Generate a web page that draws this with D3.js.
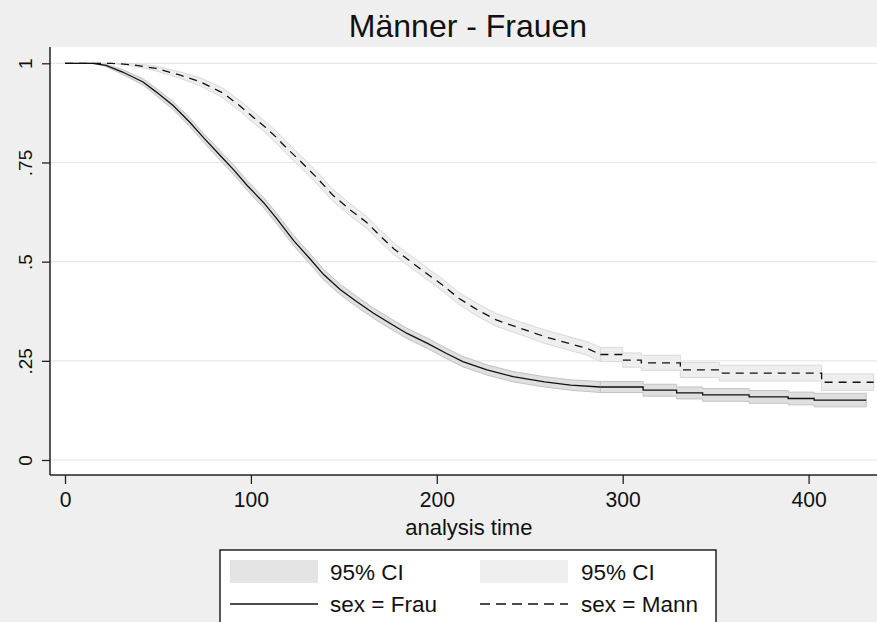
<!DOCTYPE html>
<html><head><meta charset="utf-8">
<script src="https://cdn.jsdelivr.net/npm/d3@7"></script>
<style>
html,body{margin:0;padding:0;background:#efefef;}
svg{display:block;}
</style></head>
<body>
<script>
// ---- data ----
const title = "Männer - Frauen";
const xLabel = "analysis time";
const xTicks = [0, 100, 200, 300, 400];
const yTicks = [0, 0.25, 0.5, 0.75, 1];
const yTickLabels = ["0", ".25", ".5", ".75", "1"];
const legendLabels = ["95% CI", "95% CI", "sex = Frau", "sex = Mann"];

// Frau (solid) — smooth part
const frauT  = [0,15,22,31,42,49,58,67,75,84,91,98,107,114,123,132,139,148,157,166,175,184,195,205,214,227,241,258,272,288];
const frauS  = [1,1,.995,.978,.953,.928,.894,.852,.81,.765,.73,.692,.648,.608,.553,.506,.468,.43,.399,.37,.344,.319,.294,.269,.248,.227,.21,.197,.189,.184];
const frauLo = [1,1,.992,.972,.945,.919,.884,.841,.799,.753,.718,.680,.635,.595,.540,.493,.455,.417,.386,.357,.331,.306,.281,.256,.235,.214,.197,.184,.176,.170];
const frauHi = [1,1,.998,.984,.961,.937,.904,.863,.821,.777,.742,.704,.661,.621,.566,.519,.481,.443,.412,.383,.357,.332,.307,.282,.261,.240,.223,.210,.202,.198];
// Frau — step tail
const frauTailT  = [288,311,329,343,368,389,403,431];
const frauTailS  = [.184,.176,.169,.164,.159,.155,.151,.151];
const frauTailLo = [.170,.161,.154,.148,.143,.139,.134,.134];
const frauTailHi = [.198,.191,.184,.180,.175,.171,.168,.168];

// Mann (dashed) — smooth part
const mannT  = [0,25,37,49,62,73,85,94,100,108,114,118,126,135,144,153,162,170,177,188,196,202,212,222,232,245,258,268,281,288];
const mannS  = [1,1,.996,.987,.97,.953,.925,.893,.869,.838,.812,.792,.756,.714,.668,.632,.6,.563,.532,.493,.465,.445,.407,.378,.353,.332,.311,.298,.281,.266];
const mannLo = [1,1,.993,.981,.962,.943,.913,.880,.855,.824,.797,.777,.741,.699,.653,.617,.585,.548,.517,.478,.45,.43,.392,.362,.337,.316,.294,.281,.264,.248];
const mannHi = [1,1,.999,.993,.978,.963,.937,.906,.883,.852,.827,.807,.771,.729,.683,.647,.615,.578,.547,.508,.48,.46,.422,.394,.369,.348,.328,.315,.298,.284];
// Mann — step tail
const mannTailT  = [288,300,310,331,352,407,435];
const mannTailS  = [.266,.252,.245,.227,.219,.196,.196];
const mannTailLo = [.248,.234,.226,.208,.199,.175,.175];
const mannTailHi = [.284,.270,.264,.246,.239,.217,.217];

// ---- drawing ----
const W = 877, H = 622;
const svg = d3.select("body").append("svg").attr("width", W).attr("height", H);
svg.append("rect").attr("width", W).attr("height", H).attr("fill", "#efefef");

const plot = {left: 50, top: 47, right: 877, bottom: 475};
const x = d3.scaleLinear().domain([0, 400]).range([65, 808.6]);
const y = d3.scaleLinear().domain([0, 1]).range([460, 63.3]);

svg.append("rect").attr("x", plot.left).attr("y", plot.top)
  .attr("width", plot.right - plot.left).attr("height", plot.bottom - plot.top).attr("fill", "#ffffff");

// gridlines
svg.append("g").selectAll("line").data(yTicks).join("line")
  .attr("x1", plot.left).attr("x2", plot.right)
  .attr("y1", d => y(d)).attr("y2", d => y(d))
  .attr("stroke", "#e6e6e6").attr("stroke-width", 1.2);

function zip(t, a, b) { return t.map((v, i) => ({t: v, a: a[i], b: b ? b[i] : null})); }

const areaLin = d3.area().x(d => x(d.t)).y0(d => y(d.a)).y1(d => y(d.b)).curve(d3.curveLinear);
const areaStep = d3.area().x(d => x(d.t)).y0(d => y(d.a)).y1(d => y(d.b)).curve(d3.curveStepAfter);
const lineLin = d3.line().x(d => x(d.t)).y(d => y(d.a)).curve(d3.curveLinear);
const lineStep = d3.line().x(d => x(d.t)).y(d => y(d.a)).curve(d3.curveStepAfter);

const bands = svg.append("g");
// Frau CI
bands.append("path").attr("d", areaLin(zip(frauT, frauLo, frauHi)))
  .attr("fill", "#dfdfdf").attr("stroke", "#c2c2c2").attr("stroke-width", 1);
bands.append("path").attr("d", areaStep(zip(frauTailT, frauTailLo, frauTailHi)))
  .attr("fill", "#dfdfdf").attr("stroke", "#c2c2c2").attr("stroke-width", 1);
// Mann CI
bands.append("path").attr("d", areaLin(zip(mannT, mannLo, mannHi)))
  .attr("fill", "#eeeeee").attr("stroke", "#d9d9d9").attr("stroke-width", 1);
bands.append("path").attr("d", areaStep(zip(mannTailT, mannTailLo, mannTailHi)))
  .attr("fill", "#eeeeee").attr("stroke", "#d9d9d9").attr("stroke-width", 1);

const lines = svg.append("g").attr("fill", "none").attr("stroke", "#111");
lines.append("path").attr("d", lineLin(zip(frauT, frauS))).attr("stroke-width", 1.3);
lines.append("path").attr("d", lineStep(zip(frauTailT, frauTailS))).attr("stroke-width", 1.3);
lines.append("path").attr("d", lineLin(zip(mannT, mannS))).attr("stroke-width", 1.3).attr("stroke-dasharray", "8,6");
lines.append("path").attr("d", lineStep(zip(mannTailT, mannTailS))).attr("stroke-width", 1.3).attr("stroke-dasharray", "8,6");

// axes
const xAxis = d3.axisBottom(x).tickValues(xTicks).tickSize(9).tickPadding(7).tickFormat(d3.format("d"));
const gx = svg.append("g").attr("transform", `translate(0,${plot.bottom})`).call(xAxis);
gx.select(".domain").attr("d", `M${plot.left},0H${plot.right}`).attr("stroke", "#222").attr("stroke-width", 1.5);
gx.selectAll(".tick line").attr("stroke", "#222").attr("stroke-width", 1.3);
gx.selectAll(".tick text").attr("font-family", "'Liberation Sans',Arial,sans-serif")
  .attr("font-size", 22).attr("fill", "#111").attr("transform", "scale(0.96,1)");

const yAxis = d3.axisLeft(y).tickValues(yTicks).tickSize(8).tickFormat((d, i) => yTickLabels[i]);
const gy = svg.append("g").attr("transform", `translate(${plot.left},0)`).call(yAxis);
gy.select(".domain").attr("d", `M0,${plot.top}V${plot.bottom}`).attr("stroke", "#222").attr("stroke-width", 1.5);
gy.selectAll(".tick line").attr("stroke", "#222").attr("stroke-width", 1.3);
gy.selectAll(".tick text")
  .attr("font-family", "'Liberation Sans',Arial,sans-serif").attr("font-size", 19).attr("fill", "#111")
  .attr("x", null).attr("dy", null)
  .attr("text-anchor", "middle")
  .attr("transform", "translate(-18,0) rotate(-90)")
  .attr("y", 0);

// axis title
svg.append("text").attr("x", x(200) + 32).attr("y", 535).attr("text-anchor", "middle")
  .attr("font-family", "'Liberation Sans',Arial,sans-serif")
  .attr("font-size", 22).attr("fill", "#111").text(xLabel);

// title
svg.append("text").attr("x", 468).attr("y", 37).attr("text-anchor", "middle")
  .attr("font-family", "'Liberation Sans',Arial,sans-serif").attr("font-size", 32).attr("fill", "#111").text(title);

// legend
const lg = svg.append("g");
lg.append("rect").attr("x", 220).attr("y", 550).attr("width", 496).attr("height", 90)
  .attr("fill", "#ffffff").attr("stroke", "#222").attr("stroke-width", 1.5);
const sw = [{x: 230, fill: "#e4e4e4"}, {x: 480, fill: "#efefef"}];
lg.selectAll("rect.sw").data(sw).join("rect").attr("class", "sw")
  .attr("x", d => d.x).attr("y", 560).attr("width", 88).attr("height", 23).attr("fill", d => d.fill);
lg.append("line").attr("x1", 230).attr("x2", 318).attr("y1", 604).attr("y2", 604).attr("stroke", "#111").attr("stroke-width", 1.3);
lg.append("line").attr("x1", 480).attr("x2", 568).attr("y1", 604).attr("y2", 604).attr("stroke", "#111").attr("stroke-width", 1.3).attr("stroke-dasharray", "10,6");
const lt = [{x: 330, y: 580, t: legendLabels[0]}, {x: 581, y: 580, t: legendLabels[1]},
            {x: 330, y: 612, t: legendLabels[2]}, {x: 581, y: 612, t: legendLabels[3]}];
lg.selectAll("text").data(lt).join("text").attr("x", d => d.x).attr("y", d => d.y)
  .attr("font-family", "'Liberation Sans',Arial,sans-serif").attr("font-size", 22.5).attr("fill", "#111").text(d => d.t);
</script>
</body></html>
